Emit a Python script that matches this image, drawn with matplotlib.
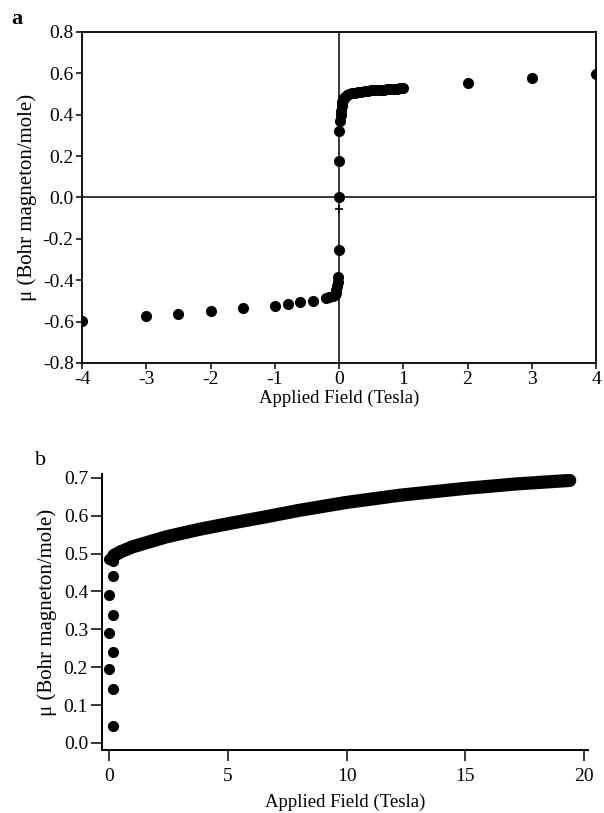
import matplotlib
matplotlib.use("Agg")
import matplotlib.pyplot as plt

plt.rcParams["font.family"] = ["Liberation Serif", "DejaVu Serif"]

# ---- panel a: hysteresis sweep between -4 T and +4 T ----
neg_field = [-4.0, -3.0, -2.5, -2.0, -1.5, -1.0, -0.8, -0.6, -0.4, -0.2,
             -0.15, -0.1, -0.07, -0.05, -0.04, -0.03, -0.02, -0.01, 0.0]
neg_moment = [-0.595, -0.571, -0.565, -0.549, -0.536, -0.523, -0.515, -0.507,
              -0.500, -0.486, -0.482, -0.477, -0.470, -0.460, -0.448, -0.43,
              -0.41, -0.385, -0.254]

pos_field = [0.0, 0.0, 0.0, 0.02, 0.03, 0.03, 0.04, 0.04, 0.05, 0.06, 0.08,
             0.1, 0.13, 0.16, 0.2, 0.25, 0.3, 0.35, 0.4, 0.45, 0.5, 0.55,
             0.6, 0.65, 0.7, 0.75, 0.8, 0.85, 0.9, 0.95, 1.0, 2.0, 3.0, 4.0]
pos_moment = [0.0, 0.178, 0.321, 0.37, 0.40, 0.42, 0.44, 0.45, 0.46, 0.47,
              0.48, 0.488, 0.494, 0.499, 0.503, 0.507, 0.510, 0.512, 0.514,
              0.516, 0.518, 0.519, 0.520, 0.521, 0.522, 0.523, 0.524, 0.525,
              0.526, 0.527, 0.528, 0.555, 0.579, 0.597]

cross_field = [0.0]
cross_moment = [-0.056]

a_xticks = [-4, -3, -2, -1, 0, 1, 2, 3, 4]
a_yticks = [-0.8, -0.6, -0.4, -0.2, 0.0, 0.2, 0.4, 0.6, 0.8]

# ---- panel b: high-field magnetisation up to 20 T ----
low_field = [0.0, 0.0, 0.0, 0.0, 0.15, 0.15, 0.15, 0.15, 0.15, 0.15]
low_moment = [0.485, 0.39, 0.29, 0.195, 0.48, 0.44, 0.338, 0.24, 0.143, 0.045]

band_field = [0.2, 0.5, 1.0, 2.4, 3.8, 5.2, 6.6, 8.0, 10.0, 12.25, 15.0,
              17.2, 19.4]
band_moment = [0.495, 0.505, 0.518, 0.544, 0.564, 0.581, 0.597, 0.614,
               0.635, 0.654, 0.672, 0.684, 0.693]

b_xticks = [0, 5, 10, 15, 20]
b_yticks = [0.0, 0.1, 0.2, 0.3, 0.4, 0.5, 0.6, 0.7]

W, H = 604, 813
fig = plt.figure(figsize=(W / 100, H / 100), dpi=100)

TICK_FS = 14
XLAB_FS = 13.5
YLAB_FS = 15
ylab = "\u03bc (Bohr magneton/mole)"
xlab = "Applied Field (Tesla)"

# panel a
axa = fig.add_axes([82 / W, 1 - 363 / H, (596 - 82) / W, (363 - 32) / H])
axa.set_xlim(-4, 4)
axa.set_ylim(-0.8, 0.8)
axa.axhline(0, color="black", lw=1.1, zorder=1)
axa.axvline(0, color="black", lw=1.1, zorder=1)
axa.plot(neg_field, neg_moment, "o", color="black", ms=7, zorder=3)
axa.plot(pos_field, pos_moment, "o", color="black", ms=7, zorder=3)
axa.plot(cross_field, cross_moment, "+", color="black", ms=6, mew=1.2, zorder=3)
axa.set_xticks(a_xticks)
axa.set_xticklabels([f"{v:d}" for v in a_xticks])
axa.set_yticks(a_yticks)
axa.set_yticklabels([f"{v:.1f}".replace("-0.0", "0.0") for v in a_yticks])
axa.tick_params(direction="out", length=4, width=1.1, labelsize=TICK_FS, pad=2)
for sp in axa.spines.values():
    sp.set_linewidth(1.3)
axa.set_xlabel(xlab, fontsize=XLAB_FS, labelpad=1)
axa.set_ylabel(ylab, fontsize=YLAB_FS, labelpad=4)
fig.text(17 / W, 1 - 19 / H, "a", fontsize=16, fontweight="bold",
         ha="center", va="center")

# panel b
axb = fig.add_axes([102 / W, 1 - 750 / H, (588 - 102) / W, (750 - 474) / H])
axb.set_xlim(-0.3, 20.17)
axb.set_ylim(-0.0185, 0.71)
axb.plot(band_field, band_moment, "-", color="black", lw=9.5,
         solid_capstyle="round", solid_joinstyle="round", zorder=3)
axb.plot(low_field, low_moment, "o", color="black", ms=7, zorder=3)
axb.spines["top"].set_visible(False)
axb.spines["right"].set_visible(False)
for sp in ("left", "bottom"):
    axb.spines[sp].set_linewidth(1.4)
axb.set_xticks(b_xticks)
axb.set_yticks(b_yticks)
axb.set_yticklabels([f"{v:.1f}" for v in b_yticks])
axb.tick_params(axis="y", direction="out", length=8, width=1.1,
                labelsize=TICK_FS, pad=2)
axb.tick_params(axis="x", direction="out", length=8, width=1.1,
                labelsize=TICK_FS, pad=5)
axb.set_xlabel(xlab, fontsize=XLAB_FS, labelpad=6)
axb.set_ylabel(ylab, fontsize=YLAB_FS, labelpad=5)
fig.text(41 / W, 1 - 460 / H, "b", fontsize=16, ha="center", va="center")

fig.savefig("out.png", dpi=100)
